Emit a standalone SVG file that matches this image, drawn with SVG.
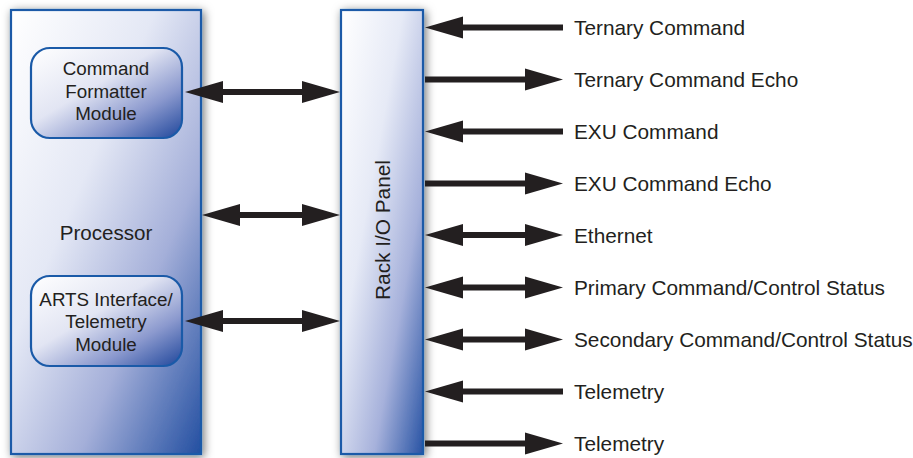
<svg xmlns="http://www.w3.org/2000/svg" width="913" height="458" viewBox="0 0 913 458">
<style>
text{font-family:"Liberation Sans",Arial,sans-serif;fill:#231f20}
.lbl{font-size:20.8px}
.mod{font-size:18.8px;text-anchor:middle}
.box{stroke:#1a5aa8;stroke-width:2.2}
.shaft{stroke:#231f20;stroke-width:6;fill:none}
.head{fill:#231f20}
</style>
<defs>
<linearGradient id="gProc" x1="0" y1="0" x2="1" y2="1">
<stop offset="0" stop-color="#ffffff"/>
<stop offset="0.38" stop-color="#e4e8f5"/>
<stop offset="0.68" stop-color="#a4afd9"/>
<stop offset="1" stop-color="#234fa1"/>
</linearGradient>
<linearGradient id="gRack" x1="0" y1="0" x2="1" y2="1">
<stop offset="0" stop-color="#ffffff"/>
<stop offset="0.38" stop-color="#e6eaf6"/>
<stop offset="0.7" stop-color="#a6b1db"/>
<stop offset="1" stop-color="#2853a4"/>
</linearGradient>
<linearGradient id="gMod" x1="0" y1="0" x2="1" y2="1">
<stop offset="0" stop-color="#ffffff"/>
<stop offset="0.42" stop-color="#e2e5f3"/>
<stop offset="0.72" stop-color="#8b99ce"/>
<stop offset="1" stop-color="#1f469b"/>
</linearGradient>
<filter id="sh" x="-20%" y="-10%" width="140%" height="120%">
<feDropShadow dx="2" dy="2" stdDeviation="5" flood-color="#000" flood-opacity="0.55"/>
</filter>
<polygon id="hr" points="0,0 -38,-11 -38,11"/>
<polygon id="hl" points="0,0 38,-11 38,11"/>
</defs>

<g id="processor">
<rect class="box" x="11" y="10" width="190" height="444" fill="url(#gProc)" filter="url(#sh)"/>
<text class="mod" x="106" y="240" style="font-size:20.6px">Processor</text>
</g>

<g id="cmd-formatter">
<rect class="box" x="31" y="48" width="151" height="90" rx="19" fill="url(#gMod)"/>
<text class="mod" x="106" y="75">Command</text>
<text class="mod" x="106" y="97.5">Formatter</text>
<text class="mod" x="106" y="120">Module</text>
</g>

<g id="arts-module">
<rect class="box" x="31" y="276" width="151" height="90" rx="19" fill="url(#gMod)"/>
<text class="mod" x="106" y="305.5">ARTS Interface/</text>
<text class="mod" x="106" y="328">Telemetry</text>
<text class="mod" x="106" y="350.5">Module</text>
</g>

<g id="rack-io-panel">
<rect class="box" x="341" y="10" width="82" height="444" fill="url(#gRack)" filter="url(#sh)"/>
<text x="389.5" y="230" transform="rotate(-90 389.5 230)" text-anchor="middle" style="font-size:20.8px">Rack I/O Panel</text>
</g>

<g id="connectors">
<line class="shaft" x1="215" y1="92" x2="310" y2="92"/>
<use href="#hl" x="185" y="92" class="head"/>
<use href="#hr" x="340" y="92" class="head"/>

<line class="shaft" x1="232" y1="215" x2="310" y2="215"/>
<use href="#hl" x="202" y="215" class="head"/>
<use href="#hr" x="340" y="215" class="head"/>

<line class="shaft" x1="215" y1="321" x2="310" y2="321"/>
<use href="#hl" x="185" y="321" class="head"/>
<use href="#hr" x="340" y="321" class="head"/>

<line class="shaft" x1="455" y1="27.5" x2="563" y2="27.5"/>
<use href="#hl" x="425" y="27.5" class="head"/>

<line class="shaft" x1="425" y1="79.5" x2="533" y2="79.5"/>
<use href="#hr" x="563" y="79.5" class="head"/>

<line class="shaft" x1="455" y1="131.5" x2="563" y2="131.5"/>
<use href="#hl" x="425" y="131.5" class="head"/>

<line class="shaft" x1="425" y1="183.5" x2="533" y2="183.5"/>
<use href="#hr" x="563" y="183.5" class="head"/>

<line class="shaft" x1="455" y1="235" x2="533" y2="235"/>
<use href="#hl" x="425" y="235" class="head"/>
<use href="#hr" x="563" y="235" class="head"/>

<line class="shaft" x1="455" y1="287.5" x2="533" y2="287.5"/>
<use href="#hl" x="425" y="287.5" class="head"/>
<use href="#hr" x="563" y="287.5" class="head"/>

<line class="shaft" x1="455" y1="339.5" x2="533" y2="339.5"/>
<use href="#hl" x="425" y="339.5" class="head"/>
<use href="#hr" x="563" y="339.5" class="head"/>

<line class="shaft" x1="455" y1="391.5" x2="563" y2="391.5"/>
<use href="#hl" x="425" y="391.5" class="head"/>

<line class="shaft" x1="425" y1="443.5" x2="533" y2="443.5"/>
<use href="#hr" x="563" y="443.5" class="head"/>
</g>

<g id="labels">
<text class="lbl" x="574" y="35">Ternary Command</text>
<text class="lbl" x="574" y="87">Ternary Command Echo</text>
<text class="lbl" x="574" y="139">EXU Command</text>
<text class="lbl" x="574" y="191">EXU Command Echo</text>
<text class="lbl" x="574" y="243">Ethernet</text>
<text class="lbl" x="574" y="295">Primary Command/Control Status</text>
<text class="lbl" x="574" y="347">Secondary Command/Control Status</text>
<text class="lbl" x="574" y="399">Telemetry</text>
<text class="lbl" x="574" y="451">Telemetry</text>
</g>
</svg>
